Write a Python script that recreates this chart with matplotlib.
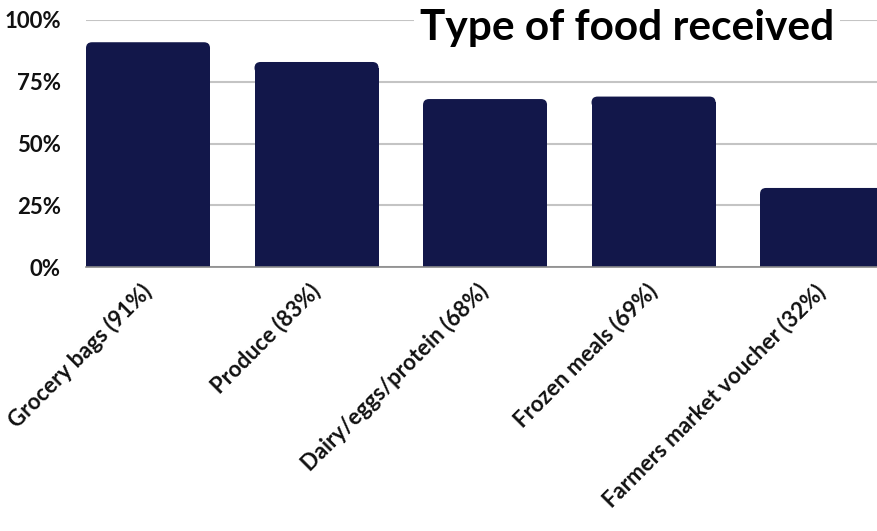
import matplotlib
matplotlib.use("Agg")
import matplotlib.pyplot as plt
from matplotlib.patches import FancyBboxPatch
from matplotlib.ticker import FuncFormatter

categories = ["Grocery bags (91%)", "Produce (83%)", "Dairy/eggs/protein (68%)",
              "Frozen meals (69%)", "Farmers market voucher (32%)"]
values = [91, 83, 68, 69, 32]
yticks = [0, 25, 50, 75, 100]
title = "Type of food received"

plt.rcParams['font.family'] = ['Lato', 'DejaVu Sans']
bar_color = "#12174a"

fig = plt.figure(figsize=(8.77, 5.31), dpi=100)
ax = fig.add_axes([86/877, 1 - 267/531, (877-86)/877, (267-20)/531])

width = 0.736
x = list(range(len(categories)))
rx = 0.036
ry = 2.4
ax.bar(x, [v - ry for v in values], width=width, color=bar_color, zorder=3, linewidth=0)
for xi, v in zip(x, values):
    p = FancyBboxPatch((xi - width/2, v - 2*ry), width, 2*ry,
                       boxstyle=f"round,pad=0,rounding_size={rx}",
                       mutation_aspect=ry/rx, facecolor=bar_color,
                       edgecolor="none", zorder=3)
    ax.add_patch(p)

ax.set_xlim(-width/2, 4.326)
ax.set_ylim(0, 100)
ax.set_yticks(yticks)
ax.yaxis.set_major_formatter(FuncFormatter(lambda v, p: f"{int(v)}%"))
ax.grid(axis='y', color="#c4c4c4", linewidth=1.5, zorder=0)
ax.set_axisbelow(True)
for s in ["top", "right", "left"]:
    ax.spines[s].set_visible(False)
ax.spines["bottom"].set_color("#8a8a8a")
ax.spines["bottom"].set_linewidth(1.2)
ax.spines["bottom"].set_zorder(4)
ax.tick_params(axis='y', length=0, pad=18, labelsize=16, labelcolor="#111111")
ax.tick_params(axis='x', length=0, pad=15, labelsize=16, labelcolor="#111111")
for lbl in ax.get_yticklabels():
    lbl.set_fontweight("bold")
ax.set_xticks(x)
ax.set_xticklabels(categories, rotation=45, ha='right', va='center',
                   rotation_mode='anchor', fontweight='bold')

fig.text(627/877, 1 - 28/531, title, ha='center', va='center', fontsize=30.5,
         fontweight='bold', color="#000000",
         bbox=dict(facecolor='white', edgecolor='none', pad=4), zorder=10)

fig.savefig("out.png", dpi=100)
